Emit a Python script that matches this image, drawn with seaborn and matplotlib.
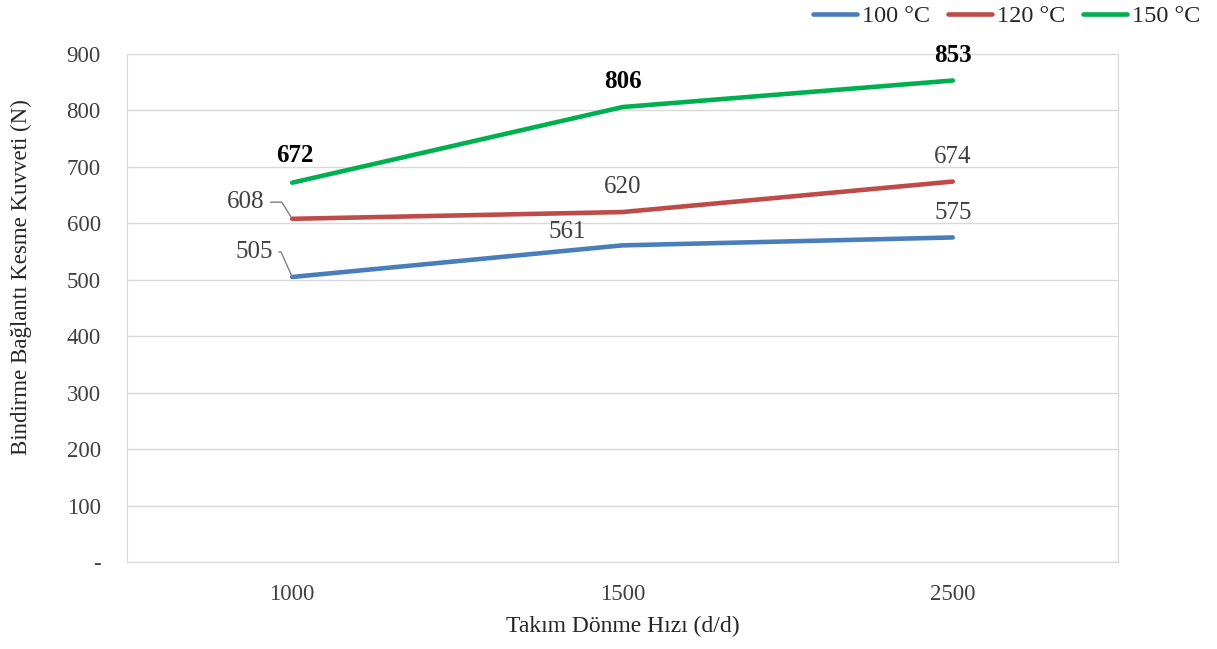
import matplotlib
matplotlib.use("Agg")
import matplotlib.pyplot as plt
import seaborn as sns
import pandas as pd

speeds = ["1000", "1500", "2500"]
temps = ["100 °C", "120 °C", "150 °C"]
force_100 = [505, 561, 575]
force_120 = [608, 620, 674]
force_150 = [672, 806, 853]
colors = ["#4A7EBB", "#BE4B48", "#00B050"]

sns.set_style("white")
plt.rcParams["font.family"] = ["Liberation Serif", "DejaVu Serif"]

df = pd.DataFrame({
    "speed": speeds * 3,
    "temp": [t for t in temps for _ in speeds],
    "force": force_100 + force_120 + force_150,
})

fig = plt.figure(figsize=(12.17, 6.49), dpi=100)
ax = fig.add_axes([0.1044, 0.134, 0.8142, 0.7828])

sns.lineplot(data=df, x="speed", y="force", hue="temp", palette=colors,
             linewidth=3.3, ax=ax, sort=False)

ax.set_xlim(-0.5, 2.5)
ax.set_ylim(0, 900)
ax.set_yticks(range(0, 1000, 100))
ax.set_yticklabels(["-"] + [str(v) for v in range(100, 1000, 100)])
ax.yaxis.grid(True, color="#D9D9D9", linewidth=1)
ax.tick_params(axis="y", labelsize=16.5, colors="#404040", length=0, pad=19)
ax.tick_params(axis="x", labelsize=16.5, colors="#404040", length=0, pad=16)
for side in ax.spines:
    ax.spines[side].set_color("#D9D9D9")

ax.set_xlabel("Takım Dönme Hızı (d/d)", fontsize=17, color="#262626")
ax.xaxis.set_label_coords(0.5005, -0.106)
ax.set_ylabel("Bindirme Bağlantı Kesme Kuvveti (N)", fontsize=16.5, color="#262626")
ax.yaxis.label.set_va("center")
ax.yaxis.set_label_coords(-0.107, 0.56)

# data labels (offsets in points)
lab = dict(fontsize=18, color="#404040", ha="center", va="bottom")
bold = dict(fontsize=18, color="black", fontweight="bold", ha="center", va="bottom")
ax.annotate(str(force_150[0]), (0, force_150[0]), xytext=(2, 11), textcoords="offset points", **bold)
ax.annotate(str(force_150[1]), (1, force_150[1]), xytext=(0, 10), textcoords="offset points", **bold)
ax.annotate(str(force_150[2]), (2, force_150[2]), xytext=(0, 10), textcoords="offset points", **bold)
ax.annotate(str(force_120[1]), (1, force_120[1]), xytext=(0, 10), textcoords="offset points", **lab)
ax.annotate(str(force_120[2]), (2, force_120[2]), xytext=(0, 10), textcoords="offset points", **lab)
ax.annotate(str(force_100[1]), (1, force_100[1]), xytext=(-40, 2), textcoords="offset points", **lab)
ax.annotate(str(force_100[2]), (2, force_100[2]), xytext=(0, 10), textcoords="offset points", **lab)
leader = dict(arrowstyle="-", color="#7F7F7F", lw=1, shrinkA=2, shrinkB=1,
              connectionstyle="angle,angleA=0,angleB=122,rad=0")
ax.annotate(str(force_120[0]), (0, force_120[0]), xytext=(-20, 12), textcoords="offset points",
            ha="right", va="center", fontsize=18, color="#404040", arrowprops=leader)
ax.annotate(str(force_100[0]), (0, force_100[0]), xytext=(-14, 18), textcoords="offset points",
            ha="right", va="center", fontsize=18, color="#404040",
            arrowprops=dict(leader, connectionstyle="angle,angleA=0,angleB=114,rad=0"))

leg = ax.legend(loc="center right", bbox_to_anchor=(1.083, 1.074), ncol=3, frameon=False,
                fontsize=17.5, handlelength=1.8, handletextpad=0.2, columnspacing=0.75,
                borderpad=0, borderaxespad=0)
for line in leg.get_lines():
    line.set_linewidth(3.3)
for t in leg.get_texts():
    t.set_color("#262626")

fig.savefig("out.png", dpi=100)
